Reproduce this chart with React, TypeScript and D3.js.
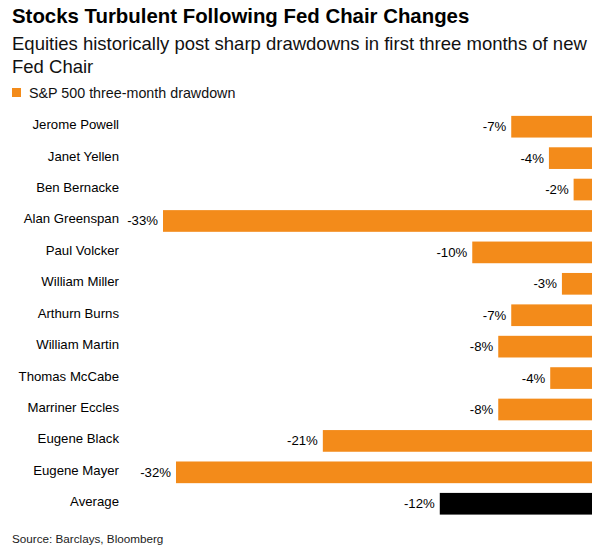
import { useEffect, useRef } from "react";
import * as d3 from "d3";

const WIDTH = 600;
const HEIGHT = 549;

const chairs = [
  "Jerome Powell",
  "Janet Yellen",
  "Ben Bernacke",
  "Alan Greenspan",
  "Paul Volcker",
  "William Miller",
  "Arthurn Burns",
  "William Martin",
  "Thomas McCabe",
  "Marriner Eccles",
  "Eugene Black",
  "Eugene Mayer",
  "Average",
];

// S&P 500 three-month drawdown, % (labels show the rounded value)
const drawdown = [-6.6, -3.7, -1.8, -33.4, -9.6, -2.7, -6.6, -7.6, -3.6, -7.6, -21.1, -32.4, -12.1];

const TITLE = "Stocks Turbulent Following Fed Chair Changes";
const SUBTITLE = ["Equities historically post sharp drawdowns in first three months of new", "Fed Chair"];
const LEGEND = "S&P 500 three-month drawdown";
const SOURCE = "Source: Barclays, Bloomberg";

const ORANGE = "#f38b1a";
const FONT = "'Liberation Sans', Arial, Helvetica, sans-serif";

function draw(svgEl: SVGSVGElement) {
  const svg = d3.select(svgEl);
  svg.selectAll("*").remove();

  svg.append("rect").attr("width", WIDTH).attr("height", HEIGHT).attr("fill", "#fff");

  const g = svg.append("g").attr("font-family", FONT);

  // header
  g.append("text")
    .attr("x", 12)
    .attr("y", 23)
    .attr("font-size", 20.4)
    .attr("font-weight", 700)
    .attr("fill", "#000")
    .text(TITLE);

  g.selectAll("text.sub")
    .data(SUBTITLE)
    .join("text")
    .attr("class", "sub")
    .attr("x", 12)
    .attr("y", (_d, i) => 49.5 + i * 23)
    .attr("font-size", 18.5)
    .attr("fill", "#111")
    .text((d) => d);

  // legend
  g.append("rect").attr("x", 12).attr("y", 88).attr("width", 9).attr("height", 9).attr("fill", ORANGE);
  g.append("text")
    .attr("x", 29)
    .attr("y", 97.5)
    .attr("font-size", 14.3)
    .attr("fill", "#111")
    .text(LEGEND);

  const x = d3.scaleLinear().domain([-33.4, 0]).range([163, 597]);
  const barEnd = 592;

  const y = d3
    .scaleBand<string>()
    .domain(chairs)
    .range([111, 111 + chairs.length * 31.42])
    .paddingInner(0.31)
    .paddingOuter(0.155);

  const rows = chairs.map((name, i) => ({ name, value: drawdown[i] }));
  const fmt = (v: number) => `${Math.round(v)}%`;

  const row = g
    .selectAll("g.row")
    .data(rows)
    .join("g")
    .attr("class", "row")
    .attr("transform", (d) => `translate(0,${y(d.name)})`);

  row
    .append("rect")
    .attr("x", (d) => x(d.value))
    .attr("width", (d) => barEnd - x(d.value))
    .attr("height", y.bandwidth())
    .attr("fill", (d) => (d.name === "Average" ? "#000" : ORANGE));

  // chair names
  row
    .append("text")
    .attr("x", 119)
    .attr("y", y.bandwidth() / 2 + 2.5)
    .attr("text-anchor", "end")
    .attr("font-size", 13.2)
    .attr("fill", "#000")
    .text((d) => d.name);

  // value labels
  row
    .append("text")
    .attr("x", (d) => x(d.value) - 5)
    .attr("y", y.bandwidth() / 2 + 4.5)
    .attr("text-anchor", "end")
    .attr("font-size", 13.2)
    .attr("fill", "#000")
    .text((d) => fmt(d.value));

  // source
  g.append("text")
    .attr("x", 12)
    .attr("y", 543)
    .attr("font-size", 11.7)
    .attr("fill", "#222")
    .text(SOURCE);
}

export default function App() {
  const svgRef = useRef<SVGSVGElement>(null);

  useEffect(() => {
    if (svgRef.current) draw(svgRef.current);
  }, []);

  return (
    <svg
      ref={svgRef}
      width={WIDTH}
      height={HEIGHT}
      style={{ position: "absolute", left: 0, top: 0, display: "block" }}
    />
  );
}
